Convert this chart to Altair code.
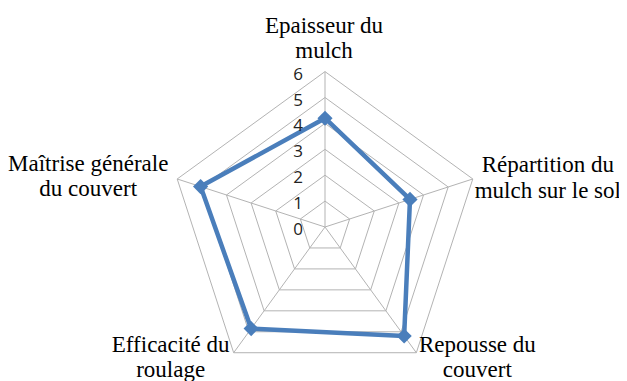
import altair as alt
import pandas as pd

# ---- data ----
categories = [
    "Epaisseur du\nmulch",
    "Répartition du\nmulch sur le sol",
    "Repousse du\ncouvert",
    "Efficacité du\nroulage",
    "Maîtrise générale\ndu couvert",
]
values = [4.2, 3.45, 5.2, 4.85, 5.05]
levels = [1, 2, 3, 4, 5, 6]
tick_labels = ["0", "1", "2", "3", "4", "5", "6"]
r_max = 6
n = len(categories)

# ---- layout (pixels) ----
W, H = 611, 373
unit = 25.9            # px per value unit
cx, cy = 317, 219      # centre inside plot area
xmin = -cx / unit
xmax = xmin + W / unit
ymax = cy / unit
ymin = ymax - H / unit
LINE_H = 25.5

BLUE = "#4A7EBB"
GRID = "#B3B3B3"
SERIF = "Times New Roman"

xs = alt.Scale(domain=[xmin, xmax], nice=False, zero=False)
ys = alt.Scale(domain=[ymin, ymax], nice=False, zero=False)
X = alt.X("x:Q", scale=xs, axis=None)
Y = alt.Y("y:Q", scale=ys, axis=None)
ang = f"datum.k * 2 * PI / {n}"

# grid pentagons
grid_rows = [{"level": lv, "k": k} for lv in levels for k in range(n + 1)]
grid = (
    alt.Chart(pd.DataFrame(grid_rows))
    .transform_calculate(x=f"datum.level * sin({ang})", y=f"datum.level * cos({ang})")
    .mark_line(color=GRID, strokeWidth=1)
    .encode(x=X, y=Y, detail="level:N", order="k:Q")
)

# spokes
spokes = (
    alt.Chart(pd.DataFrame({"k": list(range(n))}))
    .transform_calculate(x="0", y="0", x2=f"{r_max} * sin({ang})", y2=f"{r_max} * cos({ang})")
    .mark_rule(color=GRID, strokeWidth=1)
    .encode(x=X, y=Y, x2="x2:Q", y2="y2:Q")
)

# data series
ser_rows = [{"k": i % n, "ord": i, "value": values[i % n]} for i in range(n + 1)]
line = (
    alt.Chart(pd.DataFrame(ser_rows))
    .transform_calculate(x=f"datum.value * sin({ang})", y=f"datum.value * cos({ang})")
    .mark_line(color=BLUE, strokeWidth=4.5, strokeJoin="round")
    .encode(x=X, y=Y, order="ord:Q")
)
pts = (
    alt.Chart(pd.DataFrame({"k": list(range(n)), "value": values}))
    .transform_calculate(x=f"datum.value * sin({ang})", y=f"datum.value * cos({ang})")
    .mark_point(shape="diamond", filled=True, color=BLUE, opacity=1, size=230)
    .encode(x=X, y=Y)
)

# category labels (one text row per line)
offsets = [(-1, -39), (75, -6.5), (61, -1), (-63, -1), (-89, -8)]
cat_layers = []
for i, (cat, (ddx, ddy)) in enumerate(zip(categories, offsets)):
    parts = cat.split("\n")
    df = pd.DataFrame({"k": [i] * len(parts), "ln": list(range(len(parts))), "cat": parts})
    cat_layers.append(
        alt.Chart(df)
        .transform_calculate(
            cx_=f"{r_max} * sin({ang})",
            cy_=f"{r_max} * cos({ang}) - datum.ln * {LINE_H / unit}",
        )
        .mark_text(align="center", baseline="alphabetic", dx=ddx, dy=ddy,
                   font=SERIF, fontSize=23, color="#000000")
        .encode(
            x=alt.X("cx_:Q", scale=xs, axis=None),
            y=alt.Y("cy_:Q", scale=ys, axis=None),
            text="cat:N",
        )
    )

# radial tick labels
ticks = (
    alt.Chart(pd.DataFrame({"lab": tick_labels, "v": list(range(len(tick_labels)))}))
    .transform_calculate(x="0", y="datum.v")
    .mark_text(align="right", baseline="middle", dx=-22, dy=3,
               font="Open Sans", fontSize=17, color="#222222")
    .encode(x=X, y=Y, text="lab:N")
)

chart = (
    alt.layer(grid, spokes, line, pts, *cat_layers, ticks)
    .properties(width=W, height=H, padding=0, autosize=alt.AutoSizeParams(type="none"))
    .configure_view(stroke=None)
    .configure_text(font=SERIF)
)
chart.save("out.html", embed_options={"renderer": "svg", "actions": False})
